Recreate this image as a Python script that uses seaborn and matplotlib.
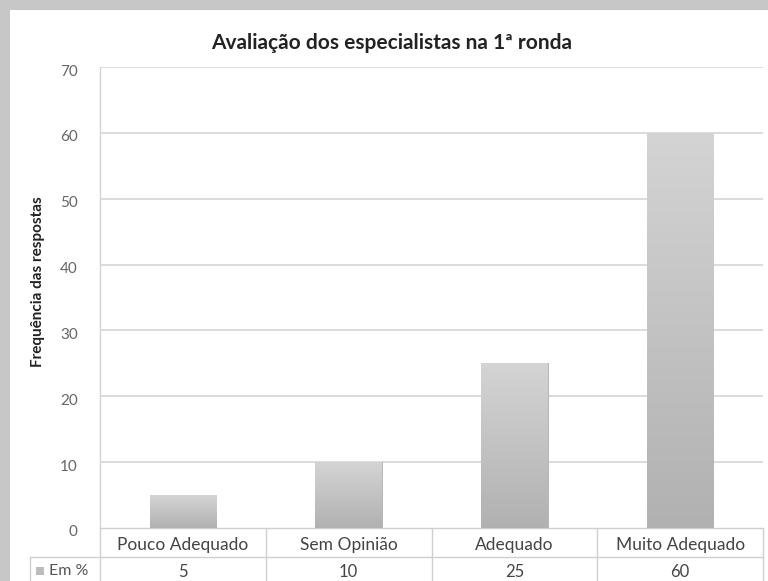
import numpy as np
import matplotlib
matplotlib.use("Agg")
import matplotlib.pyplot as plt
from matplotlib.patches import Rectangle
from matplotlib.colors import LinearSegmentedColormap
from matplotlib.lines import Line2D
from matplotlib.transforms import ScaledTranslation
import seaborn as sns

categories = ["Pouco Adequado", "Sem Opinião", "Adequado", "Muito Adequado"]
values = [5, 10, 25, 60]
series_name = "Em %"
title = "Avaliação dos especialistas na 1ª ronda"
ylabel = "Frequência das respostas"
yticks = [0, 10, 20, 30, 40, 50, 60, 70]

sns.set_theme(style="white")
plt.rcParams["font.family"] = ["Lato", "DejaVu Sans"]

W, H = 768, 581
fig = plt.figure(figsize=(W / 100, H / 100), dpi=100, facecolor="#c7c7c7")

# white chart area on the grey frame
fig.patches.append(Rectangle((10 / W, 0), 1 - 10 / W, 1 - 10 / H,
                             transform=fig.transFigure, facecolor="white",
                             edgecolor="none", zorder=-5))

left, right, top, bottom = 100, 763, 67, 528
ax = fig.add_axes([left / W, 1 - bottom / H, (right - left) / W, (bottom - top) / H])
ax.set_facecolor("none")
ax.set_zorder(2)

sns.barplot(x=categories, y=values, width=0.4, color="#c0c0c0", ax=ax,
            edgecolor="#b0b0b0", linewidth=0.6, zorder=3)

# vertical grey gradient on each bar
cmap = LinearSegmentedColormap.from_list("bar", ["#b1b1b1", "#d4d4d4"])
grad = np.linspace(0, 1, 256).reshape(-1, 1)
for p in list(ax.patches):
    x0, w, h = p.get_x(), p.get_width(), p.get_height()
    im = ax.imshow(grad, extent=(x0, x0 + w, 0, h), origin="lower",
                   aspect="auto", cmap=cmap, zorder=3.5)
    im.set_clip_path(p)

ax.set_xlim(-0.5, len(categories) - 0.5)
ax.set_ylim(0, 70)
ax.set_yticks(yticks)
ax.set_yticklabels([str(t) for t in yticks], color="#666666", fontsize=11)
ax.tick_params(axis="y", length=0, pad=16)
shift = ScaledTranslation(0, -3 / 100, fig.dpi_scale_trans)
for lbl in ax.get_yticklabels():
    lbl.set_transform(lbl.get_transform() + shift)
ax.set_xticks([])
ax.set_xlabel("")
ax.set_ylabel("")
for yv in yticks[1:]:
    ax.axhline(yv, color="#d9d9d9", lw=1.3, zorder=1)
for s in ["top", "right", "bottom"]:
    ax.spines[s].set_visible(False)
ax.spines["left"].set_color("#d4d4d4")
ax.spines["left"].set_linewidth(1.0)

fig.text(392 / W, 1 - 43 / H, title, ha="center", va="center",
         fontsize=15, fontweight="bold", color="#222222")
fig.text(38 / W, 1 - 282 / H, ylabel, rotation=90, ha="center", va="center",
         fontsize=11, fontweight="bold", color="#222222")

# data table under the plot
line_c = "#cfcfcf"
def fx(px):
    return px / W
def fy(py):
    return 1 - py / H
tbl_lines = [
    ((left, right), (bottom, bottom)),
    ((30, right), (557, 557)),
    ((30, 30), (557, H)),
    ((right, right), (bottom, H)),
]
bounds = np.linspace(left, right, len(categories) + 1)
for b in bounds[:-1]:
    tbl_lines.append(((b, b), (bottom, H)))
for xs, ys in tbl_lines:
    fig.add_artist(Line2D([fx(v) for v in xs], [fy(v) for v in ys],
                          transform=fig.transFigure, color=line_c, lw=1.0))

for i, (cat, val) in enumerate(zip(categories, values)):
    cx = (bounds[i] + bounds[i + 1]) / 2
    fig.text(fx(cx), fy(545), cat, ha="center", va="center",
             fontsize=12.5, color="#444444")
    fig.text(fx(cx), fy(572), str(val), ha="center", va="center",
             fontsize=12, color="#444444")

fig.add_artist(Rectangle((fx(36), fy(575)), 8 / W, 8 / H,
                         transform=fig.transFigure, facecolor="#bdbdbd",
                         edgecolor="none"))
fig.text(fx(49), fy(571), series_name, ha="left", va="center",
         fontsize=11.5, color="#555555")

fig.savefig("out.png", dpi=100, facecolor=fig.get_facecolor())
